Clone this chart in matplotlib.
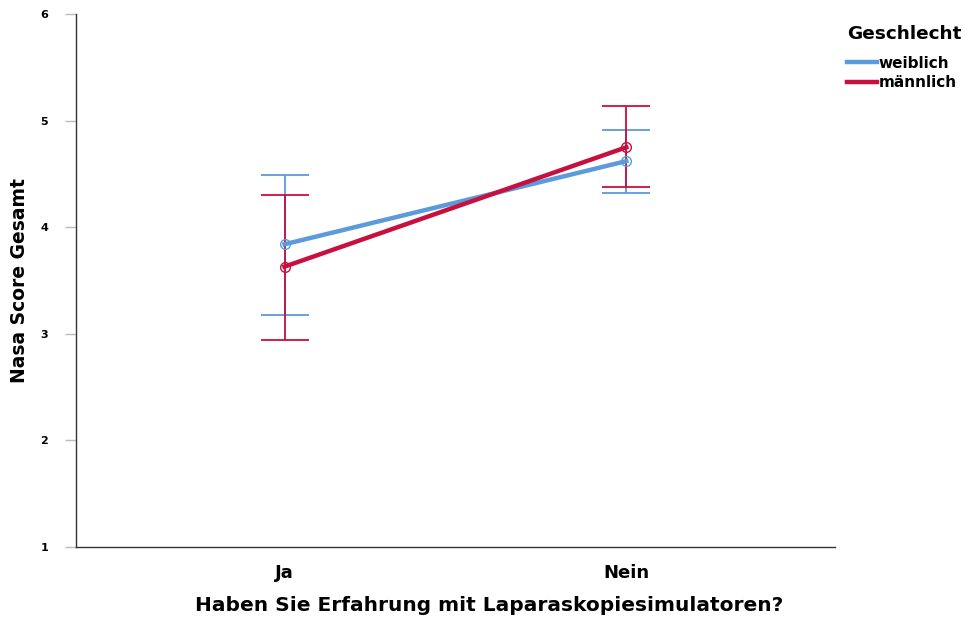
import numpy as np
import matplotlib
matplotlib.use('Agg')
import matplotlib.pyplot as plt

plt.rcParams['font.family'] = ['DejaVu Sans']
plt.rcParams['font.weight'] = 'bold'

CATEGORIES = ['Ja', 'Nein']
GROUPS = ['weiblich', 'männlich']
COLORS = ['#5B9BDC', '#C8103E']

MEANS = {
    'weiblich': [3.84, 4.62],
    'männlich': [3.63, 4.75],
}
CI_LOW = {
    'weiblich': [3.18, 4.32],
    'männlich': [2.94, 4.38],
}
CI_HIGH = {
    'weiblich': [4.49, 4.91],
    'männlich': [4.30, 5.14],
}

Y_TICKS = [1, 2, 3, 4, 5, 6]


def main():
    fig = plt.figure(figsize=(9.66, 6.2), dpi=100)
    ax = fig.add_axes([0.0787, 0.1177, 0.7855, 0.8597])

    x = np.arange(len(CATEGORIES))

    for group, color in zip(GROUPS, COLORS):
        mean = np.array(MEANS[group])
        low = np.array(CI_LOW[group])
        high = np.array(CI_HIGH[group])
        ax.errorbar(
            x, mean,
            yerr=[mean - low, high - mean],
            fmt='none',
            ecolor=color,
            elinewidth=1.3,
            capsize=17,
            capthick=1.3,
            zorder=2
        )

    for group, color in zip(GROUPS, COLORS):
        ax.plot(
            x, MEANS[group],
            color=color,
            linewidth=3.2,
            label=group,
            zorder=3
        )
        ax.plot(
            x, MEANS[group],
            linestyle='none',
            marker='o',
            markersize=7,
            markerfacecolor='none',
            markeredgecolor=color,
            markeredgewidth=1.0,
            zorder=4
        )

    ax.set_xlim(-0.61, 1.61)
    ax.set_ylim(1, 6)
    ax.set_yticks(Y_TICKS)
    ax.set_yticklabels([str(t) for t in Y_TICKS], fontsize=8, fontweight='bold')
    ax.set_xticks(x)
    ax.set_xticklabels(CATEGORIES, fontsize=13, fontweight='bold')

    ax.tick_params(axis='x', length=0, pad=12)
    ax.tick_params(axis='y', length=8, color='#bbbbbb', width=1, pad=12)

    for side in ['top', 'right']:
        ax.spines[side].set_visible(False)
    ax.spines['left'].set_color('#333333')
    ax.spines['bottom'].set_color('#333333')
    ax.spines['left'].set_linewidth(1.0)
    ax.spines['bottom'].set_linewidth(1.0)

    ax.set_xlabel('Haben Sie Erfahrung mit Laparaskopiesimulatoren?',
                  fontsize=14.5, fontweight='bold')
    ax.set_ylabel('Nasa Score Gesamt', fontsize=13.5, fontweight='bold')
    ax.xaxis.set_label_coords(0.545, -0.092)
    ax.yaxis.set_label_coords(-0.062, 0.5)

    leg = fig.legend(
        loc='upper left',
        bbox_to_anchor=(0.871, 0.969),
        frameon=False,
        title='Geschlecht',
        title_fontproperties={'weight': 'bold', 'size': 13.3},
        prop={'weight': 'bold', 'size': 11},
        handlelength=1.9,
        handletextpad=0.15,
        labelspacing=0.3,
        borderaxespad=0
    )
    leg._legend_box.align = 'left'
    leg._legend_box.sep = 9

    fig.savefig('out.png', dpi=100)
    plt.close(fig)


if __name__ == '__main__':
    main()
